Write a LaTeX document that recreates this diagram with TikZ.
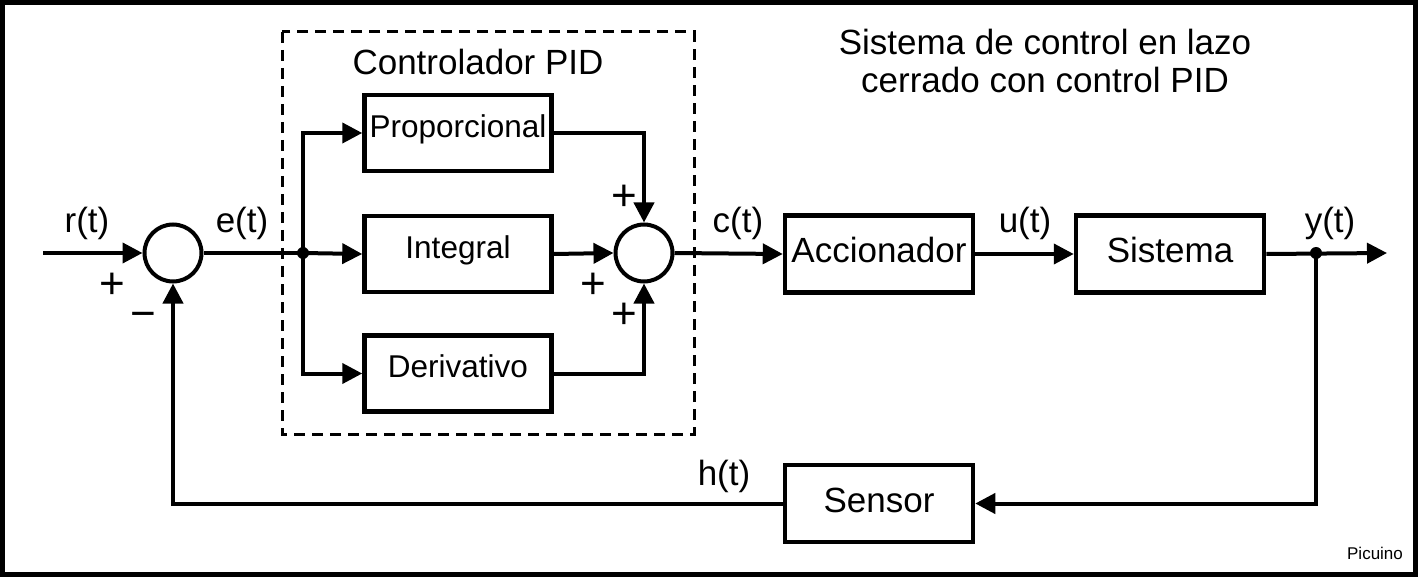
\documentclass[tikz,border=0pt]{standalone}
\usepackage{fontspec}
\setmainfont{Liberation Sans}
\usetikzlibrary{arrows.meta,calc}
\begin{document}
\begin{tikzpicture}[x=1pt,y=-1pt,
  line width=4pt,
  conn/.style={line width=4pt},
  arr/.style={conn,-{Triangle[length=20pt,width=20pt]}},
  sumnode/.style={circle,draw,line width=4pt,minimum size=57pt,inner sep=0pt},
  pidbox/.style={draw,line width=4.5pt,minimum width=187pt,minimum height=76pt,inner sep=0pt,
     font=\fontsize{31.5}{34}\selectfont,text height=22.7pt,text depth=13.9pt},
  bigbox/.style={draw,line width=4.5pt,minimum width=188pt,minimum height=77pt,inner sep=0pt,
     font=\fontsize{35}{38}\selectfont,text height=25pt,text depth=8pt},
  lbl/.style={font=\fontsize{35}{38}\selectfont,anchor=base,inner sep=0pt},
  sgn/.style={font=\fontsize{44}{46}\selectfont,anchor=base,inner sep=0pt},
  junction/.style={circle,fill,inner sep=0pt,minimum size=12pt}
]
\useasboundingbox (0,0) rectangle (1418,577);
\draw[line width=5pt] (2.5,2.5) rectangle (1415.5,574.5);

% PID dashed frame
\draw[line width=3pt,dash pattern=on 11pt off 7pt] (282,32) rectangle (694,434);
\node[lbl] (pidtitle) at (478,75) {Controlador PID};

% title
\node[lbl] (title1) at (1045,55) {Sistema de control en lazo};
\node[lbl] (title2) at (1045,93) {cerrado con control PID};

% nodes
\coordinate (in) at (43,253);
\node[sumnode] (s1) at (173,253) {};
\node[junction] (d1) at (303,253) {};
\node[pidbox] (P) at (458,133) {Proporcional};
\node[pidbox] (I) at (458,254) {Integral};
\node[pidbox] (D) at (458,373.5) {Derivativo};
\node[sumnode] (s2) at (644,253) {};
\node[bigbox] (A) at (879,254) {Accionador};
\node[bigbox] (S) at (1170,254) {Sistema};
\node[bigbox] (Se) at (879,503.5) {Sensor};
\node[junction] (d2) at (1316,253) {};
\coordinate (out) at (1387,253);

% connectors
\draw[arr] (in) -- (s1.west);
\draw[conn] (s1.east) -- (d1.center);
\draw[arr] (d1.center) -- (I.west);
\draw[arr] (d1.center) |- (P.west);
\draw[arr] (d1.center) |- (D.west);
\draw[arr] (P.east) -| (s2.north);
\draw[arr] (I.east) -- (s2.west);
\draw[arr] (D.east) -| (s2.south);
\draw[arr] (s2.east) -- (A.west);
\draw[arr] (A.east) -- (S.west);
\draw[arr] (S.east) -- (out);
\draw[arr] (d2.center) |- (Se.east);
\draw[arr] (Se.west) -| (s1.south);

% signal labels
\node[lbl] (rt) at (87,233) {r(t)};
\node[lbl] (et) at (242,233) {e(t)};
\node[lbl] (ct) at (738,233) {c(t)};
\node[lbl] (ut) at (1025,233) {u(t)};
\node[lbl] (yt) at (1330,233) {y(t)};
\node[lbl] (ht) at (724,485) {h(t)};

% signs (baseline = glyph centre + 15.5)
\node[sgn] (p1) at (112,298.5) {+};
\node[sgn] (m1) at (143,328.5) {\symbol{"2212}};
\node[sgn] (p2) at (624,210.5) {+};
\node[sgn] (p3) at (593,298.5) {+};
\node[sgn] (p4) at (624,328.5) {+};

\node[font=\fontsize{17}{19}\selectfont,inner sep=0pt] (pic) at (1375,553) {Picuino};
\end{tikzpicture}
\end{document}
